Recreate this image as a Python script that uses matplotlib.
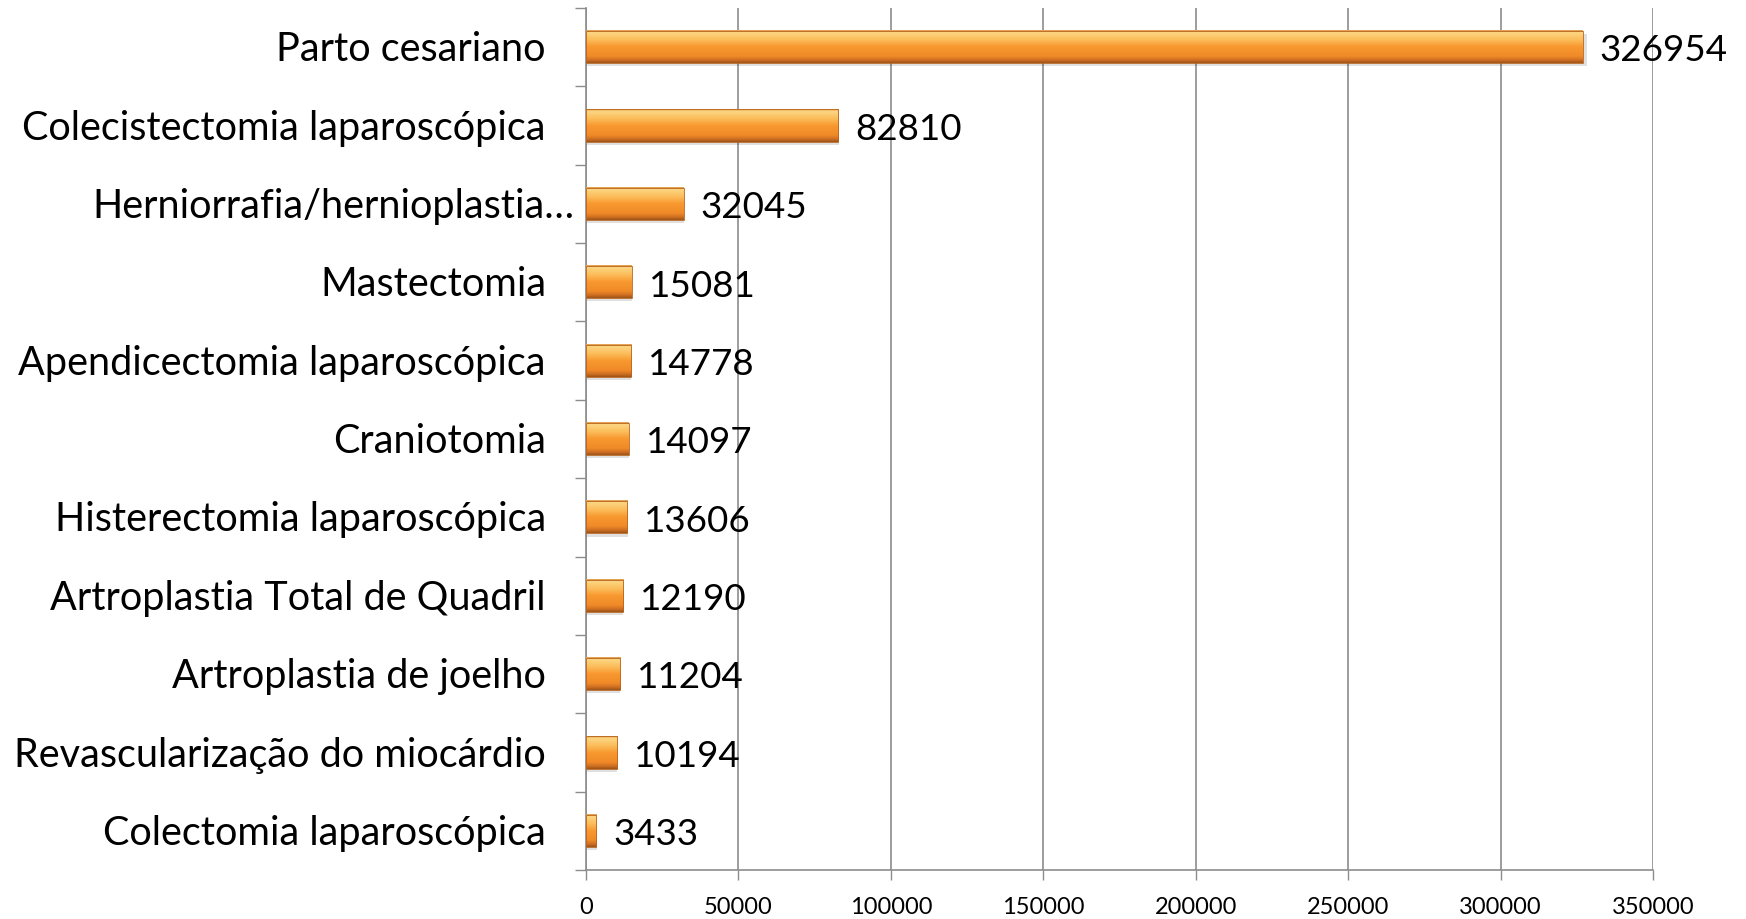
import numpy as np
import matplotlib
matplotlib.use("Agg")
import matplotlib.pyplot as plt
from matplotlib.colors import LinearSegmentedColormap
import matplotlib.transforms as mtransforms

categories = [
    "Parto cesariano",
    "Colecistectomia laparoscópica",
    "Herniorrafia/hernioplastia…",
    "Mastectomia",
    "Apendicectomia laparoscópica",
    "Craniotomia",
    "Histerectomia laparoscópica",
    "Artroplastia Total de Quadril",
    "Artroplastia de joelho",
    "Revascularização do miocárdio",
    "Colectomia laparoscópica",
]
values = [326954, 82810, 32045, 15081, 14778, 14097, 13606, 12190, 11204, 10194, 3433]
xticks = [0, 50000, 100000, 150000, 200000, 250000, 300000, 350000]

plt.rcParams['font.family'] = ['Lato', 'DejaVu Sans']

W, H = 1746, 920
fig = plt.figure(figsize=(W / 100, H / 100), dpi=100)
ax = fig.add_axes([586 / W, 1 - 871 / H, (1653 - 586) / W, (871 - 9) / H])

grid_col = '#8c8c8c'
bar_h = 0.41
cmap = LinearSegmentedColormap.from_list('bar', [
    (0.0, '#e09a4a'), (0.06, '#fdd682'), (0.3, '#fbbb58'), (0.5, '#f8992f'),
    (0.8, '#f08a28'), (0.92, '#cc6d20'), (1.0, '#9e561a')])
grad = np.linspace(0, 1, 64).reshape(-1, 1)

ys = np.arange(len(categories))
for y, v in zip(ys, values):
    ax.add_patch(plt.Rectangle((0, y - bar_h / 2 + 0.04), v * 1.004, bar_h, facecolor='#000000',
                               alpha=0.12, edgecolor='none', zorder=2))
    ax.imshow(grad, cmap=cmap, extent=(0, v, y + bar_h / 2, y - bar_h / 2),
              aspect='auto', origin='upper', zorder=3, interpolation='bilinear')
    ax.add_patch(plt.Rectangle((0, y - bar_h / 2), v, bar_h, facecolor='none',
                               edgecolor='#b8641e', linewidth=0.6, zorder=4))
    ax.annotate(str(v), xy=(v, y), xytext=(12, -2), textcoords='offset points',
                ha='left', va='center', fontsize=26.5, color='black', zorder=5)

ax.set_xlim(0, 350000)
ax.set_ylim(len(categories) - 0.5, -0.5)

ax.set_xticks(xticks)
ax.set_xticklabels([str(t) for t in xticks], fontsize=17)
ax.tick_params(axis='x', length=7, width=1, color=grid_col, pad=12)
ax.set_yticks(np.arange(len(categories) + 1) - 0.5)
ax.set_yticklabels([])
ax.tick_params(axis='y', length=8, width=1, color=grid_col)

trans = mtransforms.blended_transform_factory(ax.transAxes, ax.transData)
for y, c in zip(ys, categories):
    dx = -12 if c.endswith('…') else -40
    off = mtransforms.offset_copy(trans, fig=fig, x=dx, y=0, units='dots')
    ax.text(0, y + 0.02, c, transform=off, ha='right', va='center', fontsize=28.5, color='black')

ax.grid(axis='x', color=grid_col, linewidth=1.2, zorder=0)
ax.set_axisbelow(True)
for s in ['top', 'right']:
    ax.spines[s].set_visible(False)
for s in ['left', 'bottom']:
    ax.spines[s].set_color(grid_col)
    ax.spines[s].set_linewidth(1.2)

fig.savefig('out.png', dpi=100)
